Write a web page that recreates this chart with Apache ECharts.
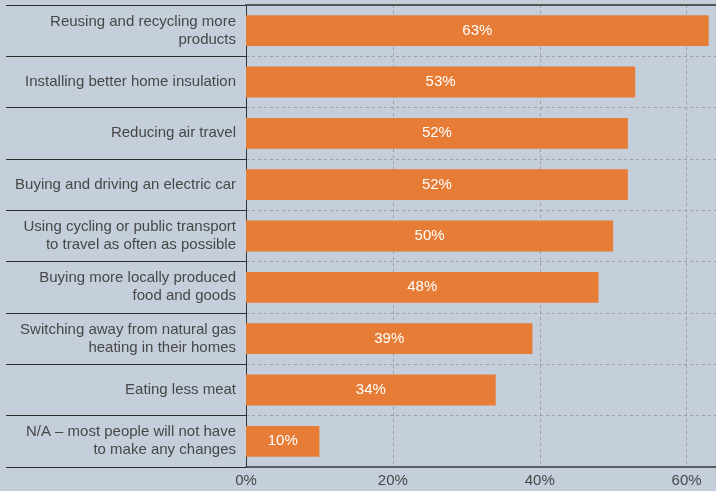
<!DOCTYPE html>
<html>
<head>
<meta charset="utf-8">
<script src="https://cdn.jsdelivr.net/npm/echarts@6/dist/echarts.min.js"></script>
<style>
  html, body { margin: 0; padding: 0; background: #c5cfdb; }
  #chart { width: 716px; height: 491px; }
</style>
</head>
<body>
<div id="chart"></div>
<script>
// Changes people expect to make, share of respondents
const categories = [
  'Reusing and recycling more\nproducts',
  'Installing better home insulation',
  'Reducing air travel',
  'Buying and driving an electric car',
  'Using cycling or public transport\nto travel as often as possible',
  'Buying more locally produced\nfood and goods',
  'Switching away from natural gas\nheating in their homes',
  'Eating less meat',
  'N/A \u2013 most people will not have\nto make any changes'
];
const values = [63, 53, 52, 52, 50, 48, 39, 34, 10];
const xTicks = [0, 20, 40, 60];

const font = 'Liberation Sans, Arial, sans-serif';
const chart = echarts.init(document.getElementById('chart'));

chart.setOption({
  backgroundColor: '#c5cfdb',
  animation: false,
  grid: { left: 246, right: 0, top: 5, bottom: 24, containLabel: false },
  xAxis: [{
    type: 'value',
    min: 0,
    max: 64,
    interval: 20,
    position: 'bottom',
    axisLine: { show: true, lineStyle: { color: '#3a3a3a', width: 1.5 } },
    axisTick: { show: false },
    axisLabel: {
      color: '#474747',
      fontFamily: font,
      fontSize: 15,
      margin: 6,
      showMaxLabel: false,
      formatter: v => (xTicks.includes(v) ? v + '%' : '')
    },
    splitLine: {
      show: true,
      showMaxLine: false,
      lineStyle: { color: '#9aa0a8', type: [3, 3], width: 1 }
    }
  }, {
    type: 'value',
    min: 0,
    max: 64,
    position: 'top',
    axisLine: { show: true, lineStyle: { color: '#555', width: 2 } },
    axisTick: { show: false },
    axisLabel: { show: false },
    splitLine: { show: false }
  }],
  yAxis: {
    type: 'category',
    inverse: true,
    data: categories,
    axisLine: { show: true, lineStyle: { color: '#333', width: 1 } },
    axisTick: {
      show: true,
      length: 240,
      lineStyle: { color: '#2e2e2e', width: 1 }
    },
    axisLabel: {
      color: '#474747',
      fontFamily: font,
      fontSize: 15,
      lineHeight: 18,
      align: 'right',
      margin: 10
    },
    splitLine: {
      show: true,
      lineStyle: { color: '#9aa0a8', type: [3, 3], width: 1 }
    }
  },
  series: [{
    type: 'bar',
    data: values,
    xAxisIndex: 0,
    barCategoryGap: '40%',
    itemStyle: { color: '#e67c35' },
    label: {
      show: true,
      position: 'inside',
      color: '#fff',
      fontFamily: font,
      fontSize: 15,
      formatter: p => p.value + '%'
    }
  }]
});
</script>
</body>
</html>
